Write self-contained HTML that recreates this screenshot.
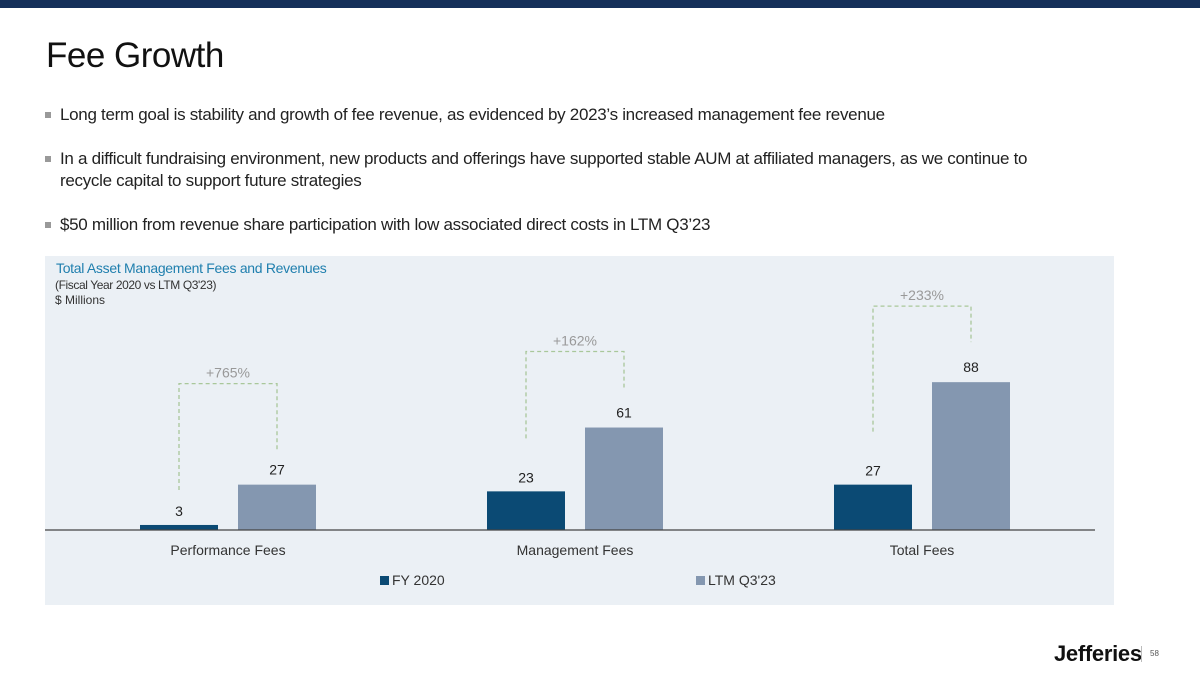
<!DOCTYPE html>
<html><head><meta charset="utf-8"><style>
body{margin:0;width:1200px;height:675px;background:#fff;font-family:"Liberation Sans",sans-serif;position:relative;overflow:hidden}
.topbar{position:absolute;left:0;top:0;width:1200px;height:8px;background:#15305a}
h1{position:absolute;left:46px;top:36px;margin:0;font-weight:normal;font-size:35px;color:#111;letter-spacing:-0.5px}
.b{position:absolute;left:46px;width:1035px;font-size:17px;color:#222;letter-spacing:-0.3px;line-height:22px}
.b:before{content:"";position:absolute;left:-1px;top:8px;width:6px;height:6px;background:#999}
.b span{display:block;padding-left:14px}
.panel{position:absolute;left:45px;top:256px;width:1069px;height:349px;background:#ebf0f5}
.logo{position:absolute;left:1054px;top:641px;font-size:22px;font-weight:bold;color:#111;letter-spacing:-0.3px}
.pg{position:absolute;left:1141px;top:646px;border-left:1px solid #bbb;padding-left:8px;font-size:8px;color:#555;height:16px;line-height:16px}
</style></head><body>
<div class="topbar"></div>
<h1>Fee Growth</h1>
<div class="b" style="top:104px"><span>Long term goal is stability and growth of fee revenue, as evidenced by 2023’s increased management fee revenue</span></div>
<div class="b" style="top:148px"><span>In a difficult fundraising environment, new products and offerings have supported stable AUM at affiliated managers, as we continue to<br>recycle capital to support future strategies</span></div>
<div class="b" style="top:214px"><span>$50 million from revenue share participation with low associated direct costs in LTM Q3’23</span></div>
<div class="panel"></div>
<svg id="chart" width="1200" height="675" style="position:absolute;left:0;top:0"></svg>
<div class="logo">Jefferies</div>
<div class="pg">58</div>
<script>
const categories=["Performance Fees","Management Fees","Total Fees"];
const fy2020=[3,23,27];
const ltm=[27,61,88];
const growthLabels=["+765%","+162%","+233%"];
const seriesNames=["FY 2020","LTM Q3'23"];
const NS="http://www.w3.org/2000/svg";
const svg=document.getElementById('chart');
const base=530, scale=1.68;
const y=v=>base-v*scale;
const cx=i=>228+i*347;
function mk(t,a,txt){const e=document.createElementNS(NS,t);for(const k in a)e.setAttribute(k,a[k]);if(txt!=null)e.textContent=txt;svg.appendChild(e);return e;}
let e;
e=mk('text',{x:56,y:273,'font-size':14,fill:'#1f7fae','letter-spacing':'-0.3'},'Total Asset Management Fees and Revenues');


e=mk('text',{x:55,y:289,'font-size':12,fill:'#333','letter-spacing':'-0.4'},"(Fiscal Year 2020 vs LTM Q3'23)");


e=mk('text',{x:55,y:304,'font-size':12,fill:'#333'},'$ Millions');


categories.forEach((c,i)=>{
  const x1=cx(i)-49,x2=cx(i)+49;
  e=mk('rect',{x:x1-39,y:y(fy2020[i]),width:78,height:fy2020[i]*scale,fill:'#0b4a74'});
  
  
  e=mk('rect',{x:x2-39,y:y(ltm[i]),width:78,height:ltm[i]*scale,fill:'#8497b0'});
  
  
  e=mk('text',{x:x1,y:y(fy2020[i])-9,'font-size':14,fill:'#222','text-anchor':'middle'},String(fy2020[i]));
  
  
  e=mk('text',{x:x2,y:y(ltm[i])-10,'font-size':14,fill:'#222','text-anchor':'middle'},String(ltm[i]));
  
  
  const top=y(Math.max(fy2020[i],ltm[i]))-(i===0?101:76);
  const lb=fy2020[i]<10?base-40:y(fy2020[i])-53;
  const rb=y(ltm[i])-(i===0?33:40);
  e=mk('path',{d:`M${x1} ${lb} V${top} H${x2} V${rb}`,fill:'none',stroke:'#a9c79a','stroke-width':1.3,'stroke-dasharray':'4 3'});
  
  
  e=mk('text',{x:cx(i),y:top-6,'font-size':14,fill:'#999','text-anchor':'middle'},growthLabels[i]);
  
  
  e=mk('text',{x:cx(i),y:555,'font-size':14,fill:'#333','text-anchor':'middle'},c);
  
  
});
e=mk('line',{x1:45,x2:1095,y1:base,y2:base,stroke:'#444','stroke-width':1.3});


const legX=[380,696], legC=['#0b4a74','#8497b0'];
seriesNames.forEach((s,i)=>{
  e=mk('rect',{x:legX[i],y:576,width:9,height:9,fill:legC[i]});
  
  
  e=mk('text',{x:legX[i]+12,y:585,'font-size':14,fill:'#333'},s);
  
  
});
</script>
</body></html>
